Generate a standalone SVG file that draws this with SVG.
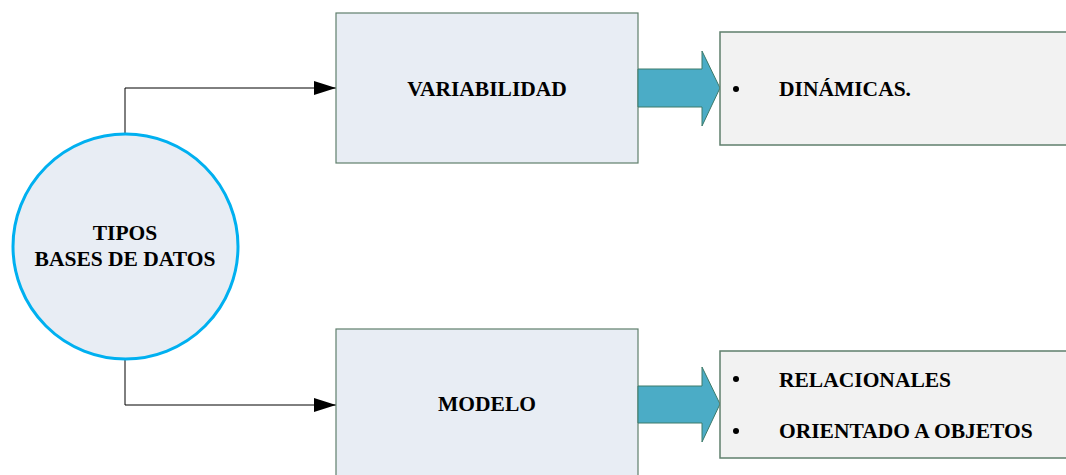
<svg xmlns="http://www.w3.org/2000/svg" width="1066" height="475" viewBox="0 0 1066 475">
  <style>
    .lbl { font-family: "Liberation Serif", "Times New Roman", serif; font-weight: bold; font-size: 21.5px; fill: #000; }
    .box { fill: #e8edf4; stroke: #5f7f6c; stroke-width: 1.2; }
    .list { fill: #f2f2f2; stroke: #5f7f6c; stroke-width: 1.5; }
    .blk { fill: #4bacc6; stroke: #3c7a6a; stroke-width: 1; }
    .conn { fill: none; stroke: #000; stroke-width: 1; }
  </style>
  <defs>
    <marker id="tri" viewBox="0 0 22 14" refX="22" refY="7" markerWidth="22" markerHeight="14" markerUnits="userSpaceOnUse" orient="auto">
      <path d="M0,0 L22,7 L0,14 Z" fill="#000"/>
    </marker>
  </defs>

  <g id="connectors">
    <path class="conn" d="M125,133 V88 H336" marker-end="url(#tri)"/>
    <path class="conn" d="M125,360 V405 H336" marker-end="url(#tri)"/>
  </g>

  <g id="tipos">
    <circle cx="125.5" cy="246.5" r="112.5" fill="#e8edf4" stroke="#00b0f0" stroke-width="3"/>
    <text class="lbl" x="125" y="240" text-anchor="middle">TIPOS</text>
    <text class="lbl" x="125" y="266" text-anchor="middle">BASES DE DATOS</text>
  </g>

  <g id="variabilidad">
    <rect class="box" x="336" y="13" width="302" height="150"/>
    <text class="lbl" x="487" y="96" text-anchor="middle">VARIABILIDAD</text>
  </g>

  <g id="modelo">
    <rect class="box" x="336" y="329" width="302" height="160"/>
    <text class="lbl" x="487" y="411" text-anchor="middle">MODELO</text>
  </g>

  <g id="flecha-variabilidad">
    <path class="blk" d="M638,69 H702 V51 L720,88 L702,126 V107 H638 Z"/>
  </g>

  <g id="flecha-modelo">
    <path class="blk" d="M638,386 H702 V367 L720,404 L702,442 V423 H638 Z"/>
  </g>

  <g id="dinamicas">
    <rect class="list" x="720" y="32" width="360" height="113"/>
    <circle cx="736" cy="89" r="3"/>
    <text class="lbl" x="779" y="96">DINÁMICAS.</text>
  </g>

  <g id="tipos-modelo">
    <rect class="list" x="720" y="351" width="360" height="107"/>
    <circle cx="736" cy="379" r="3"/>
    <text class="lbl" x="779" y="387">RELACIONALES</text>
    <circle cx="736" cy="431" r="3"/>
    <text class="lbl" x="779" y="438">ORIENTADO A OBJETOS</text>
  </g>
</svg>
